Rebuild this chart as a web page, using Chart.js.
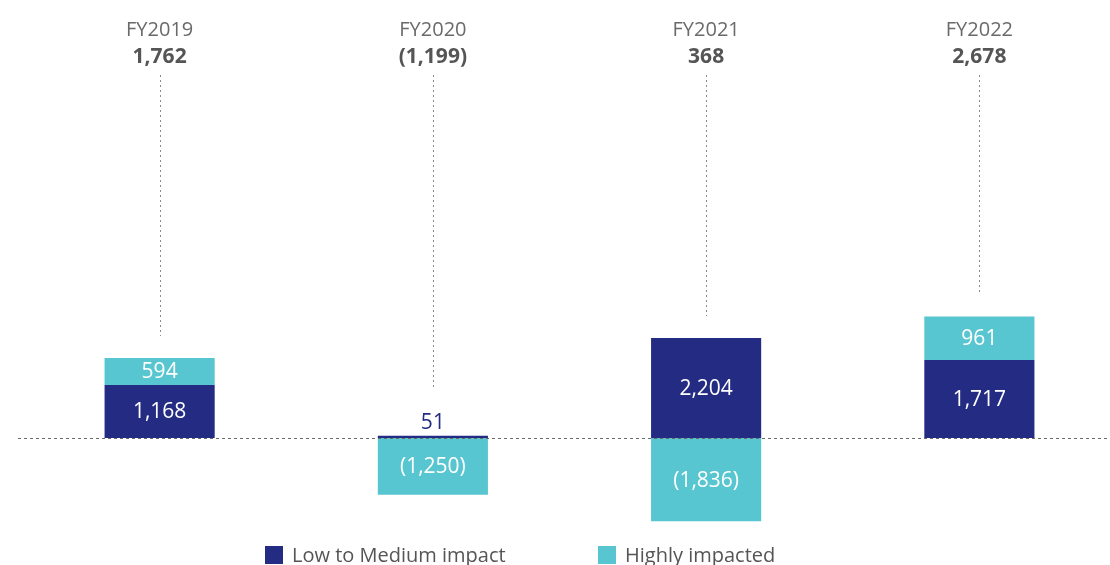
<!DOCTYPE html>
<html>
<head>
<meta charset="utf-8">
<script src="https://cdn.jsdelivr.net/npm/chart.js@4.4.0/dist/chart.umd.min.js"></script>
<style>
  html, body { margin: 0; padding: 0; background: #fff; overflow: hidden; }
  #wrap { position: relative; width: 1116px; height: 565px; }
  .legend { position: absolute; top: 541px; font: 20px "Open Sans", sans-serif; color: #555; white-space: nowrap; }
  .legend span { display: inline-block; width: 18px; height: 18px; vertical-align: -2px; margin-right: 9px; }
</style>
</head>
<body>
<div id="wrap">
  <canvas id="impactChart"></canvas>
  <div class="legend" style="left:265px"><span style="background:#232b83"></span>Low to Medium impact</div>
  <div class="legend" style="left:598px"><span style="background:#58c6d0"></span>Highly impacted</div>
</div>
<script>
  const years = ['FY2019', 'FY2020', 'FY2021', 'FY2022'];
  const lowMedium = [1168, 51, 2204, 1717];
  const highlyImpacted = [594, -1250, -1836, 961];

  const NAVY = '#232b83';
  const CYAN = '#58c6d0';
  const FONT = '"Open Sans", sans-serif';

  const fmt = (n) => {
    const s = Math.abs(n).toLocaleString('en-US');
    return n < 0 ? '(' + s + ')' : s;
  };

  // year headers, dotted leaders, zero line and in-bar values
  const overlay = {
    id: 'overlay',
    afterDatasetsDraw(chart) {
      const { ctx, scales: { x, y } } = chart;
      ctx.save();

      const y0 = Math.round(y.getPixelForValue(0)) + 0.5;
      ctx.strokeStyle = '#6a6a6a';
      ctx.lineWidth = 1;
      ctx.setLineDash([3, 3]);
      ctx.beginPath();
      ctx.moveTo(18, y0);
      ctx.lineTo(chart.width, y0);
      ctx.stroke();

      ctx.textAlign = 'center';
      ctx.textBaseline = 'middle';

      years.forEach((yr, i) => {
        const cx = x.getPixelForValue(i);
        const total = lowMedium[i] + highlyImpacted[i];

        ctx.fillStyle = '#6a6a6a';
        ctx.font = '20px ' + FONT;
        ctx.fillText(yr, cx, 30);
        ctx.fillStyle = '#555';
        ctx.font = 'bold 21px ' + FONT;
        ctx.fillText(fmt(total), cx, 57);

        // where the positive stack ends
        const posTop = Math.max(lowMedium[i], 0) + Math.max(highlyImpacted[i], 0);
        let endY = y.getPixelForValue(posTop) - 22;
        const thin = Math.abs(y.getPixelForValue(lowMedium[i]) - y.getPixelForValue(0)) < 20 && highlyImpacted[i] < 0;
        if (thin) endY -= 24;

        const lx = Math.round(cx) + 0.5;
        ctx.strokeStyle = '#8a8a8a';
        ctx.setLineDash([2, 3]);
        ctx.beginPath();
        ctx.moveTo(lx, 75);
        ctx.lineTo(lx, endY);
        ctx.stroke();
      });

      ctx.font = '21px ' + FONT;
      chart.data.datasets.forEach((ds, d) => {
        chart.getDatasetMeta(d).data.forEach((el, i) => {
          const v = ds.data[i];
          const h = Math.abs(el.base - el.y);
          if (h < 20) {
            ctx.fillStyle = ds.backgroundColor;
            ctx.fillText(fmt(v), el.x, Math.min(el.y, el.base) - 13);
          } else {
            ctx.fillStyle = '#fff';
            ctx.fillText(fmt(v), el.x, (el.y + el.base) / 2 + 1);
          }
        });
      });
      ctx.restore();
    }
  };

  new Chart(document.getElementById('impactChart'), {
    type: 'bar',
    data: {
      labels: years,
      datasets: [
        { label: 'Low to Medium impact', data: lowMedium, backgroundColor: NAVY },
        { label: 'Highly impacted', data: highlyImpacted, backgroundColor: CYAN }
      ]
    },
    options: {
      responsive: true,
      maintainAspectRatio: false,
      animation: false,
      layout: { padding: { left: 23, right: 0, top: 0, bottom: 0 } },
      datasets: { bar: { barPercentage: 1, categoryPercentage: 0.403, borderWidth: 0 } },
      plugins: { legend: { display: false }, tooltip: { enabled: false } },
      scales: {
        x: { display: false, stacked: true },
        y: { display: false, stacked: true, min: -2797, max: 9648 }
      }
    },
    plugins: [overlay]
  });
</script>
</body>
</html>
